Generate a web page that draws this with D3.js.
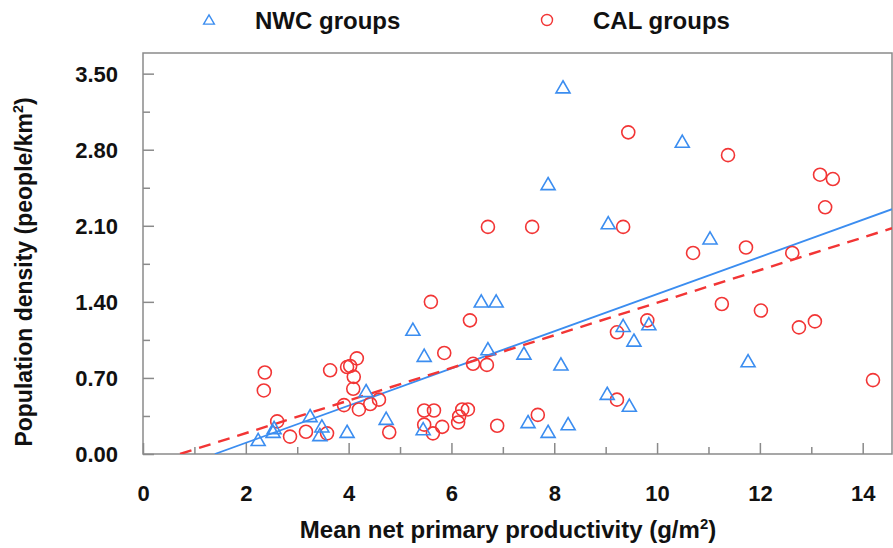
<!DOCTYPE html>
<html><head><meta charset="utf-8">
<script src="https://cdn.jsdelivr.net/npm/d3@7"></script>
<style>
body{margin:0;background:#fff;}
text{font-family:"Liberation Sans",Arial,sans-serif;font-weight:bold;fill:#111;}
</style></head>
<body><svg id="c" width="893" height="548"></svg>
<script>
// ---- data ----
const seriesNames = ["NWC groups", "CAL groups"];
const nwcX = [2.24,2.53,2.55,3.25,3.48,3.44,3.97,4.34,4.73,5.25,5.47,5.45,6.58,6.87,6.71,7.41,8.13,8.17,7.88,7.49,7.88,8.27,9.03,9.46,9.34,9.55,9.84,9.05,10.49,11.03,11.77];
const nwcY = [0.115,0.19,0.225,0.335,0.24,0.16,0.19,0.565,0.31,1.13,0.89,0.215,1.39,1.39,0.95,0.91,0.81,3.36,2.47,0.28,0.19,0.26,0.54,0.43,1.165,1.03,1.18,2.11,2.86,1.97,0.84];
const calX = [2.37,2.35,2.61,2.86,3.17,3.58,3.64,3.97,4.03,4.16,4.10,4.09,3.91,4.20,4.42,4.59,4.79,5.47,5.66,5.47,5.64,5.82,6.13,6.15,6.21,6.32,5.60,5.86,6.36,6.42,6.69,6.71,7.57,6.89,7.68,9.44,9.34,9.22,9.81,9.22,10.70,11.38,11.73,12.63,11.26,12.02,12.76,13.07,13.17,13.42,13.27,14.20];
const calY = [0.75,0.585,0.30,0.16,0.205,0.19,0.77,0.80,0.81,0.88,0.71,0.60,0.45,0.41,0.46,0.50,0.20,0.40,0.40,0.27,0.19,0.25,0.29,0.345,0.41,0.41,1.40,0.93,1.23,0.83,0.82,2.09,2.09,0.26,0.36,2.96,2.09,1.12,1.23,0.50,1.85,2.75,1.90,1.85,1.38,1.32,1.165,1.22,2.57,2.53,2.27,0.68];
const fitSlopes = [0.171, 0.150];      // NWC, CAL
const fitIntercepts = [-0.239, -0.108];
const xTicks = [0,1,2,3,4,5,6,7,8,9,10,11,12,13,14];
const xTickLabels = ["0","","2","","4","","6","","8","","10","","12","","14"];
const yTicks = [0,0.35,0.70,1.05,1.40,1.75,2.10,2.45,2.80,3.15,3.50];
const yTickLabels = ["0.00","","0.70","","1.40","","2.10","","2.80","","3.50"];
const xTitleParts = ["Mean net primary productivity (g/m", "2", ")"];
const yTitleParts = ["Population density (people/km", "2", ")"];

// ---- layout ----
const L = 143, T = 53, R = 892, B = 454;
const blue = "#3b8df0", red = "#f23535", axisCol = "#8a8a8a";
const svg = d3.select("#c");
const x = d3.scaleLinear().domain([0, 14.57]).range([L, R]);
const y = d3.scaleLinear().domain([0, 3.69]).range([B, T]);

svg.append("rect").attr("x", L).attr("y", T).attr("width", R - L).attr("height", B - T)
  .attr("fill", "none").attr("stroke", axisCol).attr("stroke-width", 1.5);

// axes
const xAxis = d3.axisBottom(x).tickValues(xTicks).tickSize(0).tickFormat((d, i) => xTickLabels[i]);
const gx = svg.append("g").attr("transform", `translate(0,${B})`).call(xAxis);
gx.select(".domain").remove();
gx.selectAll(".tick line").remove();
gx.selectAll(".tick").append("line").attr("y1", 0).attr("y2", (d, i) => xTickLabels[i] ? -11 : -7)
  .attr("stroke", axisCol).attr("stroke-width", 1.5);
gx.selectAll(".tick text").attr("dy", null).attr("y", 47).attr("font-size", 22).style("fill", "#111")
  .attr("font-family", "Liberation Sans").attr("font-weight", "bold");

const yAxis = d3.axisLeft(y).tickValues(yTicks).tickSize(0).tickFormat((d, i) => yTickLabels[i]);
const gy = svg.append("g").attr("transform", `translate(${L},0)`).call(yAxis);
gy.select(".domain").remove();
gy.selectAll(".tick line").remove();
gy.selectAll(".tick").append("line").attr("x1", 0).attr("x2", (d, i) => yTickLabels[i] ? 11 : 7)
  .attr("stroke", axisCol).attr("stroke-width", 1.5);
gy.selectAll(".tick text").attr("x", -25).attr("dy", "0.36em").attr("font-size", 22).style("fill", "#111")
  .attr("font-family", "Liberation Sans").attr("font-weight", "bold");

// titles
function titled(sel, parts, fs) {
  sel.append("tspan").text(parts[0]);
  sel.append("tspan").attr("dy", -9).attr("font-size", fs * 0.62).text(parts[1]);
  sel.append("tspan").attr("dy", 9).text(parts[2]);
}
titled(svg.append("text").attr("x", 508).attr("y", 538).attr("text-anchor", "middle").attr("font-size", 24), xTitleParts, 24);
titled(svg.append("text").attr("transform", "translate(32,272) rotate(-90)").attr("text-anchor", "middle").attr("font-size", 23), yTitleParts, 23);

// clip
svg.append("clipPath").attr("id", "pc").append("rect").attr("x", L).attr("y", T).attr("width", R - L).attr("height", B - T);

// fit lines
const xMax = x.domain()[1];
[0, 1].forEach(k => {
  const x0 = -fitIntercepts[k] / fitSlopes[k];
  const pts = [[x0, 0], [xMax, fitIntercepts[k] + fitSlopes[k] * xMax]];
  svg.append("path").attr("clip-path", "url(#pc)")
    .attr("d", d3.line().x(d => x(d[0])).y(d => y(d[1]))(pts))
    .attr("fill", "none").attr("stroke", k === 0 ? blue : red)
    .attr("stroke-width", k === 0 ? 1.8 : 2.4)
    .attr("stroke-dasharray", k === 0 ? null : "12,8");
});

const tri = d3.symbol().type(d3.symbolTriangle);
// points
const nwc = nwcX.map((v, i) => [v, nwcY[i]]);
const cal = calX.map((v, i) => [v, calY[i]]);
svg.append("g").selectAll("circle").data(cal).join("circle")
  .attr("cx", d => x(d[0])).attr("cy", d => y(d[1])).attr("r", 6.5)
  .attr("fill", "none").attr("stroke", red).attr("stroke-width", 1.6);
svg.append("g").selectAll("path").data(nwc).join("path")
  .attr("transform", d => `translate(${x(d[0])},${y(d[1])})`)
  .attr("d", tri.size(85)())
  .attr("fill", "none").attr("stroke", blue).attr("stroke-width", 1.6);

// legend
const lg = svg.append("g");
lg.append("path").attr("transform", "translate(209,21)").attr("d", d3.symbol().type(d3.symbolTriangle).size(50)())
  .attr("fill", "none").attr("stroke", blue).attr("stroke-width", 1.4);
lg.append("text").attr("x", 255).attr("y", 29).attr("font-size", 24).text(seriesNames[0]);
lg.append("circle").attr("cx", 547).attr("cy", 20).attr("r", 5.5).attr("fill", "none").attr("stroke", red).attr("stroke-width", 1.4);
lg.append("text").attr("x", 593).attr("y", 29).attr("font-size", 24).text(seriesNames[1]);
</script></body></html>
